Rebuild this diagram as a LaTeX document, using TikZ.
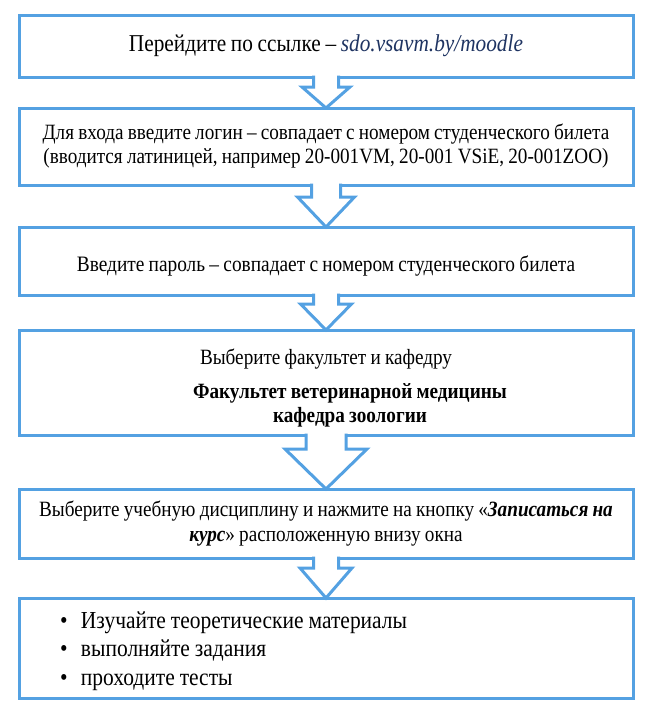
\documentclass[tikz,border=0pt]{standalone}
\usepackage{fontspec}
\setmainfont[FakeStretch=0.88, WordSpace=0.88]{Liberation Serif}
\definecolor{flowblue}{RGB}{84,161,226}
\definecolor{linknavy}{RGB}{31,52,98}

\begin{document}
\begin{tikzpicture}[
      x=1pt, y=1pt,
      stepbox/.style={rectangle, draw=flowblue, fill=white, line width=3pt, minimum width=614pt, outer sep=0pt, align=center, text=black},
      blockarrow/.style={draw=flowblue, fill=white, line width=3pt, line join=miter}
    ]
    \useasboundingbox (0,0) rectangle (650,-723);

    \node[stepbox, minimum height=62pt, font=\fontsize{24.2}{28}\selectfont] (link) at (326,-46) {Перейдите по ссылке -- \textcolor{linknavy}{\itshape sdo.vsavm.by/moodle}};
    \node[stepbox, minimum height=77pt, font=\fontsize{21.8}{24}\selectfont] (login) at (326,-146.5) {Для входа введите логин -- совпадает с номером студенческого билета \\ (вводится латиницей, например 20-001VM, 20-001 VSiE, 20-001ZOO)};
    \node[stepbox, minimum height=68pt, font=\fontsize{22}{24}\selectfont] (pass) at (326,-261) {\rule{0pt}{25pt}Введите пароль -- совпадает с номером студенческого билета};
    \node[stepbox, minimum height=105pt, font=\fontsize{21.8}{24}\selectfont] (dept) at (326,-382.5) {\rule{0pt}{26pt}Выберите факультет и кафедру \\[10pt] \hspace*{48pt}\textbf{Факультет ветеринарной медицины} \\ \hspace*{48pt}\textbf{кафедра зоологии}};
    \node[stepbox, minimum height=69pt, font=\fontsize{21.8}{25}\selectfont] (course) at (326,-523.5) {Выберите учебную дисциплину и нажмите на кнопку «\textbf{\textit{Записаться на}} \\ \textbf{\textit{курс}}» расположенную внизу окна};
    \node[stepbox, minimum height=100pt, text width=560pt, align=left, font=\fontsize{24.4}{28.5}\selectfont] (study) at (326,-648) {\spaceskip=5pt\relax\rule{0pt}{22.5pt}\hspace*{14pt}\makebox[21pt][l]{\textbullet}Изучайте теоретические материалы \\ \hspace*{14pt}\makebox[21pt][l]{\textbullet}выполняйте задания \\ \hspace*{14pt}\makebox[21pt][l]{\textbullet}проходите тесты};

    \draw[blockarrow] ([xshift=-12.5pt,yshift=1.5pt]link.south) -- ++(0,-11.5) -- ++(-11.5,0) -- (login.north) -- ++(24,21) -- ++(-11.5,0) -- ++(0,11.5);
    \draw[blockarrow] ([xshift=-14.5pt,yshift=1.5pt]login.south) -- ++(0,-13.5) -- ++(-14,0) -- (pass.north) -- ++(28.5,30) -- ++(-14,0) -- ++(0,13.5);
    \draw[blockarrow] ([xshift=-12.5pt,yshift=1.5pt]pass.south) -- ++(0,-10.5) -- ++(-13,0) -- (dept.north) -- ++(25.5,26) -- ++(-13,0) -- ++(0,10.5);
    \draw[blockarrow] ([xshift=-20pt,yshift=1.5pt]dept.south) -- ++(0,-15.5) -- ++(-21,0) -- (course.north) -- ++(41,40) -- ++(-21,0) -- ++(0,15.5);
    \draw[blockarrow] ([xshift=-12.5pt,yshift=1.5pt]course.south) -- ++(0,-11.5) -- ++(-13.5,0) -- (study.north) -- ++(26,30) -- ++(-13.5,0) -- ++(0,11.5);

  \end{tikzpicture}
\end{document}
